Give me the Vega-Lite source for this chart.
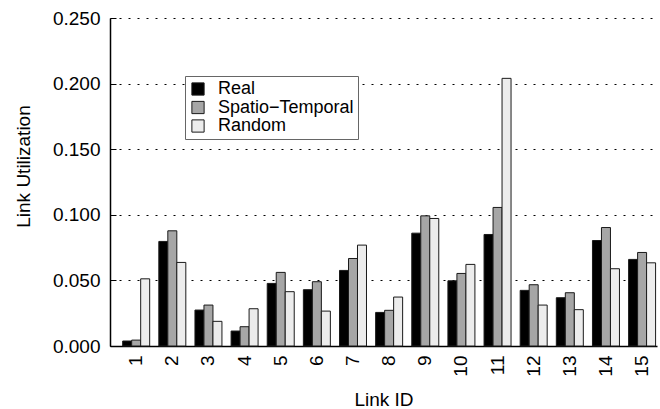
{
  "$schema": "https://vega.github.io/schema/vega-lite/v6.json",
  "autosize": {"type": "none"},
  "width": 547,
  "height": 328,
  "padding": {"left": 110, "top": 18, "right": 3, "bottom": 63},
  "background": "white",
  "config": {
    "font": "Liberation Sans",
    "view": {"stroke": null},
    "axis": {"labelFont": "Liberation Sans", "titleFont": "Liberation Sans", "labelColor": "black", "titleColor": "black", "titleFontWeight": "normal"}
  },
  "data": {
    "values": [
      {"link": "1", "series": "Real", "value": 0.0038},
      {"link": "1", "series": "Spatio−Temporal", "value": 0.0045},
      {"link": "1", "series": "Random", "value": 0.0512},
      {"link": "2", "series": "Real", "value": 0.0797},
      {"link": "2", "series": "Spatio−Temporal", "value": 0.0878},
      {"link": "2", "series": "Random", "value": 0.0637},
      {"link": "3", "series": "Real", "value": 0.0274},
      {"link": "3", "series": "Spatio−Temporal", "value": 0.0312},
      {"link": "3", "series": "Random", "value": 0.0188},
      {"link": "4", "series": "Real", "value": 0.0114},
      {"link": "4", "series": "Spatio−Temporal", "value": 0.0147},
      {"link": "4", "series": "Random", "value": 0.0284},
      {"link": "5", "series": "Real", "value": 0.0477},
      {"link": "5", "series": "Spatio−Temporal", "value": 0.0561},
      {"link": "5", "series": "Random", "value": 0.0414},
      {"link": "6", "series": "Real", "value": 0.0429},
      {"link": "6", "series": "Spatio−Temporal", "value": 0.0490},
      {"link": "6", "series": "Random", "value": 0.0266},
      {"link": "7", "series": "Real", "value": 0.0576},
      {"link": "7", "series": "Spatio−Temporal", "value": 0.0667},
      {"link": "7", "series": "Random", "value": 0.0769},
      {"link": "8", "series": "Real", "value": 0.0256},
      {"link": "8", "series": "Spatio−Temporal", "value": 0.0272},
      {"link": "8", "series": "Random", "value": 0.0373},
      {"link": "9", "series": "Real", "value": 0.0860},
      {"link": "9", "series": "Spatio−Temporal", "value": 0.0992},
      {"link": "9", "series": "Random", "value": 0.0972},
      {"link": "10", "series": "Real", "value": 0.0497},
      {"link": "10", "series": "Spatio−Temporal", "value": 0.0553},
      {"link": "10", "series": "Random", "value": 0.0622},
      {"link": "11", "series": "Real", "value": 0.0850},
      {"link": "11", "series": "Spatio−Temporal", "value": 0.1056},
      {"link": "11", "series": "Random", "value": 0.2040},
      {"link": "12", "series": "Real", "value": 0.0424},
      {"link": "12", "series": "Spatio−Temporal", "value": 0.0467},
      {"link": "12", "series": "Random", "value": 0.0312},
      {"link": "13", "series": "Real", "value": 0.0368},
      {"link": "13", "series": "Spatio−Temporal", "value": 0.0406},
      {"link": "13", "series": "Random", "value": 0.0277},
      {"link": "14", "series": "Real", "value": 0.0804},
      {"link": "14", "series": "Spatio−Temporal", "value": 0.0903},
      {"link": "14", "series": "Random", "value": 0.0589},
      {"link": "15", "series": "Real", "value": 0.0660},
      {"link": "15", "series": "Spatio−Temporal", "value": 0.0713},
      {"link": "15", "series": "Random", "value": 0.0634}
    ]
  },
  "mark": {"type": "bar", "stroke": "#1a1a1a", "strokeWidth": 1},
  "encoding": {
    "x": {
      "field": "link", "type": "ordinal", "sort": null,
      "scale": {"paddingInner": 0.253, "paddingOuter": 0.195, "align": 0.9},
      "axis": {
        "title": "Link ID", "titleFontSize": 19, "titlePadding": 14,
        "labelAngle": -90, "labelAlign": "right", "labelBaseline": "middle",
        "labelFontSize": 19, "labelPadding": 9, "ticks": false,
        "domainColor": "black", "domainWidth": 1.5
      }
    },
    "xOffset": {
      "field": "series", "type": "nominal",
      "sort": ["Real", "Spatio−Temporal", "Random"],
      "scale": {"paddingInner": 0, "paddingOuter": 0}
    },
    "y": {
      "field": "value", "type": "quantitative",
      "scale": {"domain": [0, 0.25], "nice": false, "zero": true},
      "axis": {
        "title": "Link Utilization", "titleFontSize": 19,
        "titleX": -87, "titleY": 148, "titleAngle": -90, "titleAlign": "center", "titleBaseline": "middle",
        "values": [0, 0.05, 0.1, 0.15, 0.2, 0.25], "format": ".3f",
        "labelFontSize": 19, "labelPadding": 16,
        "tickSize": -6, "tickColor": "black", "tickWidth": 1,
        "domainColor": "black", "domainWidth": 1.5,
        "grid": true, "gridColor": "black", "gridDash": [2, 7], "gridWidth": 1, "gridOpacity": 1
      }
    },
    "fill": {
      "field": "series", "type": "nominal",
      "sort": ["Real", "Spatio−Temporal", "Random"],
      "scale": {"domain": ["Real", "Spatio−Temporal", "Random"], "range": ["#000000", "#a6a6a6", "#ececec"]},
      "legend": {
        "title": null, "orient": "none", "legendX": 75, "legendY": 58,
        "symbolType": "square", "symbolSize": 150, "symbolStrokeColor": "#1a1a1a", "symbolStrokeWidth": 1,
        "labelFontSize": 18, "labelFont": "Liberation Sans", "labelColor": "black", "labelOffset": 11,
        "rowPadding": 0.5, "padding": 4,
        "strokeColor": "#666666", "fillColor": "white"
      }
    }
  }
}
